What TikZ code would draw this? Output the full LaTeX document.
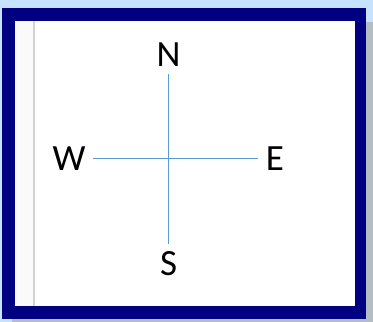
\documentclass[tikz,border=0pt]{standalone}
\usepackage{fontspec}
\setmainfont{Carlito}
\definecolor{bgblue}{HTML}{C6E2FC}
\definecolor{shadowgray}{HTML}{B4BCC4}
\definecolor{framenavy}{HTML}{000080}
\definecolor{stripgray}{HTML}{FAFAFA}
\definecolor{rulegray}{HTML}{D2D2D2}
\definecolor{axisblue}{HTML}{5B9BD5}
\tikzset{
  dirlabel/.style={inner sep=7.5pt, text height=23.5pt, text depth=0pt, font=\fontsize{37}{37}\selectfont, text=black},
  axis/.style={draw=axisblue, line width=1.3pt}
}
\begin{document}
\begin{tikzpicture}[x=1pt,y=-1pt]
\useasboundingbox (0,0) rectangle (373,322);
\fill[bgblue] (0,0) rectangle (373,322);
\fill[shadowgray] (12,22) rectangle (373,322);
\fill[framenavy] (2,8) rectangle (366,319);
\fill[white] (15,21) rectangle (355,306);
\fill[stripgray] (15,21) rectangle (33,306);
\fill[rulegray] (33,21) rectangle (35,306);
\node[dirlabel] (N) at (168.5,54.5) {N};
\node[dirlabel] (S) at (168.5,263.5) {S};
\node[dirlabel] (W) at (69,158.5) {W};
\node[dirlabel] (E) at (275,158.5) {E};
\draw[axis] (N) -- (S);
\draw[axis] (W) -- (E);
\end{tikzpicture}
\end{document}
